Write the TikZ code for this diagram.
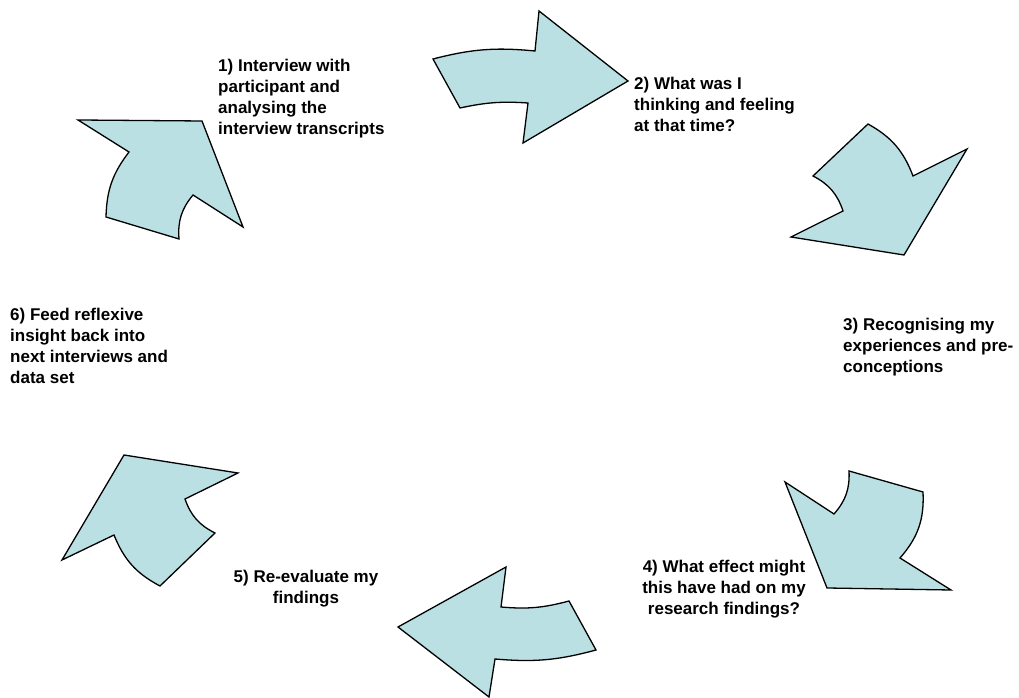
\documentclass[tikz,border=0pt]{standalone}
\usepackage{fontspec}
\setmainfont{Liberation Sans}
\usetikzlibrary{shapes}
\definecolor{paleblue}{RGB}{186,224,227}
\tikzstyle{blockarrow} = [fill=paleblue,draw=black,line width=1.3pt,line join=miter]
\tikzstyle{caption} = [inner sep=0pt, font=\fontsize{17}{21}\selectfont\bfseries]
\tikzstyle{leftcap} = [caption, align=left, anchor=base west]
\tikzstyle{midcap} = [caption, align=center, anchor=base]

\begin{document}
\begin{tikzpicture}[x=1pt,y=1pt]
  \useasboundingbox (0,0) rectangle (1019,698);

  % arrow 1 -> 2, upper left
  \draw[blockarrow] (78,578) -- (202,577) -- (243,471) -- (193,503)
    to[bend right=22] (179,459) -- (106,481) to[bend left=18] (129,546) -- cycle;
  % arrow 2 -> 3, top
  \draw[blockarrow] (433,639) to[bend left=10] (535,647) -- (539,687) -- (628,617)
    -- (523,555) -- (528,595) to[bend right=8] (460,590) -- cycle;
  % arrow 3 -> 4, upper right
  \draw[blockarrow] (868,574) to[bend left=20] (913,522) -- (967,549) -- (904,443)
    -- (791,461) -- (843,487) to[bend right=22] (813,522) -- cycle;
  % arrow 4 -> 5, lower right
  \draw[blockarrow] (849,227) -- (923,206) to[bend left=22] (900,140) -- (951,108)
    -- (827,110) -- (785,216) -- (834,184) to[bend right=22] (849,227) -- cycle;
  % arrow 5 -> 6, bottom
  \draw[blockarrow] (506,131) -- (501,91) to[bend right=10] (569,97) -- (596,48)
    to[bend left=10] (495,39) -- (489,1) -- (398,71) -- cycle;
  % arrow 6 -> 1, lower left
  \draw[blockarrow] (124,243) -- (238,225) -- (185,199) to[bend right=22] (215,165)
    -- (160,112) to[bend left=20] (114,163) -- (62,138) -- cycle;

  % captions, placed at the baseline of their last line
  \node[leftcap] (s1) at (218,563) {1) Interview with\\participant and\\analysing the\\interview transcripts};
  \node[leftcap] (s2) at (634,566) {2) What was I\\thinking and feeling\\at that time?};
  \node[leftcap] (s3) at (843,325) {3) Recognising my\\experiences and pre-\\conceptions};
  \node[midcap] (s4) at (724,83) {4) What effect might\\this have had on my\\research findings?};
  \node[midcap] (s5) at (306,94) {5) Re-evaluate my\\findings};
  \node[leftcap] (s6) at (10,314) {6) Feed reflexive\\insight back into\\next interviews and\\data set};
\end{tikzpicture}
\end{document}
